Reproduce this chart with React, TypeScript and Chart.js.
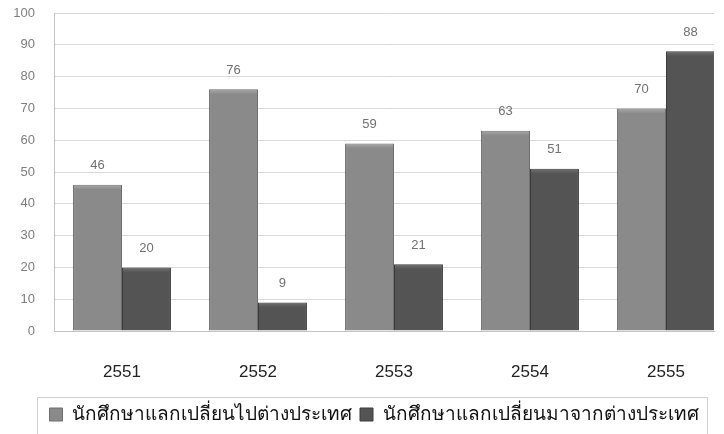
import React, { useEffect, useRef } from "react";
import { Chart, registerables } from "chart.js";

Chart.register(...registerables);

const years = ["2551", "2552", "2553", "2554", "2555"];
const outbound = [46, 76, 59, 63, 70];
const inbound = [20, 9, 21, 51, 88];
const seriesNames = [
  "นักศึกษาแลกเปลี่ยนไปต่างประเทศ",
  "นักศึกษาแลกเปลี่ยนมาจากต่างประเทศ",
];
const yTicks = [0, 10, 20, 30, 40, 50, 60, 70, 80, 90, 100];
const bevelColors = ["#a3a3a3", "#6c6c6c"];

const valueLabels = {
  id: "valueLabels",
  afterDatasetsDraw(chart: any) {
    const ctx = chart.ctx;
    ctx.save();
    // bevel highlight at the top of each bar
    chart.data.datasets.forEach((ds: any, di: number) => {
      const meta = chart.getDatasetMeta(di);
      meta.data.forEach((el: any) => {
        const w = el.width;
        const left = el.x - w / 2 + 1;
        const top = el.y + 1;
        const h = Math.min(4, el.base - el.y - 2);
        if (h <= 0) return;
        const g = ctx.createLinearGradient(0, top, 0, top + h);
        g.addColorStop(0, bevelColors[di]);
        g.addColorStop(1, ds.backgroundColor);
        ctx.fillStyle = g;
        ctx.fillRect(left, top, w - 2, h);
      });
    });
    ctx.font = "13px 'Liberation Sans', Arial, sans-serif";
    ctx.fillStyle = "#707070";
    ctx.textAlign = "center";
    ctx.textBaseline = "middle";
    chart.data.datasets.forEach((ds: any, di: number) => {
      const meta = chart.getDatasetMeta(di);
      meta.data.forEach((el: any, i: number) => {
        ctx.fillText(String(ds.data[i].y), el.x, el.y - 19);
      });
    });
    ctx.restore();
  },
};

const LEGEND_SHIFT = 17;

const legendBox = {
  id: "legendBox",
  afterLayout(chart: any) {
    const lg = chart.legend;
    if (!lg) return;
    lg.left += LEGEND_SHIFT;
    lg.right += LEGEND_SHIFT;
  },
  afterDraw(chart: any) {
    const lg = chart.legend;
    if (!lg || !lg.legendHitBoxes || !lg.legendHitBoxes.length) return;
    const boxes = lg.legendHitBoxes;
    const left = Math.min(...boxes.map((b: any) => b.left)) - 13;
    const right = Math.max(...boxes.map((b: any) => b.left + b.width)) + 8;
    const ctx = chart.ctx;
    ctx.save();
    ctx.strokeStyle = "#d0d0d0";
    ctx.lineWidth = 1;
    ctx.strokeRect(Math.round(left) + 0.5, lg.top + 0.5, right - left, chart.height - lg.top + 5);
    ctx.restore();
  },
};

export default function App() {
  const ref = useRef<HTMLCanvasElement | null>(null);
  useEffect(() => {
    if (!ref.current) return;
    const chart = new Chart(ref.current, {
      type: "bar",
      data: {
        datasets: [
          {
            label: seriesNames[0],
            data: outbound.map((v, i) => ({ x: i, y: v })),
            backgroundColor: "#8a8a8a",
            borderColor: "#6d6d6d",
            borderWidth: 1,
            categoryPercentage: 0.72,
            barPercentage: 1,
          },
          {
            label: seriesNames[1],
            data: inbound.map((v, i) => ({ x: i, y: v })),
            backgroundColor: "#545454",
            borderColor: "#3c3c3c",
            borderWidth: 1,
            categoryPercentage: 0.72,
            barPercentage: 1,
          },
        ],
      },
      options: {
        animation: false,
        responsive: true,
        maintainAspectRatio: false,
        layout: { padding: { top: 13, right: 10, left: 0, bottom: 0 } },
        plugins: {
          tooltip: { enabled: false },
          legend: {
            position: "bottom",
            labels: {
              color: "#111",
              font: { size: 19, family: "'Liberation Sans', Arial, sans-serif" },
              boxWidth: 13,
              boxHeight: 13,
              padding: 8,
            },
          },
        },
        scales: {
          x: {
            type: "linear",
            min: -0.5,
            max: 4.353,
            offset: false,
            grid: { display: false, drawTicks: false },
            border: { display: true, color: "#c4c4c4" },
            afterFit: (s: any) => {
              s.height = 66;
            },
            ticks: {
              stepSize: 1,
              includeBounds: false,
              autoSkip: false,
              maxRotation: 0,
              padding: 31,
              color: "#222",
              font: { size: 17, family: "'Liberation Sans', Arial, sans-serif" },
              callback: (v: any) => (Number.isInteger(v) && years[v] ? years[v] : ""),
            },
          },
          y: {
            min: yTicks[0],
            max: yTicks[yTicks.length - 1],
            grid: { color: "#d9d9d9", drawTicks: false },
            border: { display: true, color: "#c4c4c4" },
            afterFit: (s: any) => {
              s.width = 54;
              s.paddingTop = 0;
              s.paddingBottom = 0;
            },
            afterBuildTicks: (s: any) => {
              s.ticks = yTicks.map((v) => ({ value: v }));
            },
            ticks: {
              padding: 19,
              color: "#7e7e7e",
              font: { size: 13, family: "'Liberation Sans', Arial, sans-serif" },
            },
          },
        },
      },
      plugins: [valueLabels, legendBox],
    } as any);
    return () => chart.destroy();
  }, []);
  return (
    <div style={{ position: "absolute", left: 0, top: 0, width: 724, height: 434, background: "#fff" }}>
      <canvas ref={ref} />
    </div>
  );
}
